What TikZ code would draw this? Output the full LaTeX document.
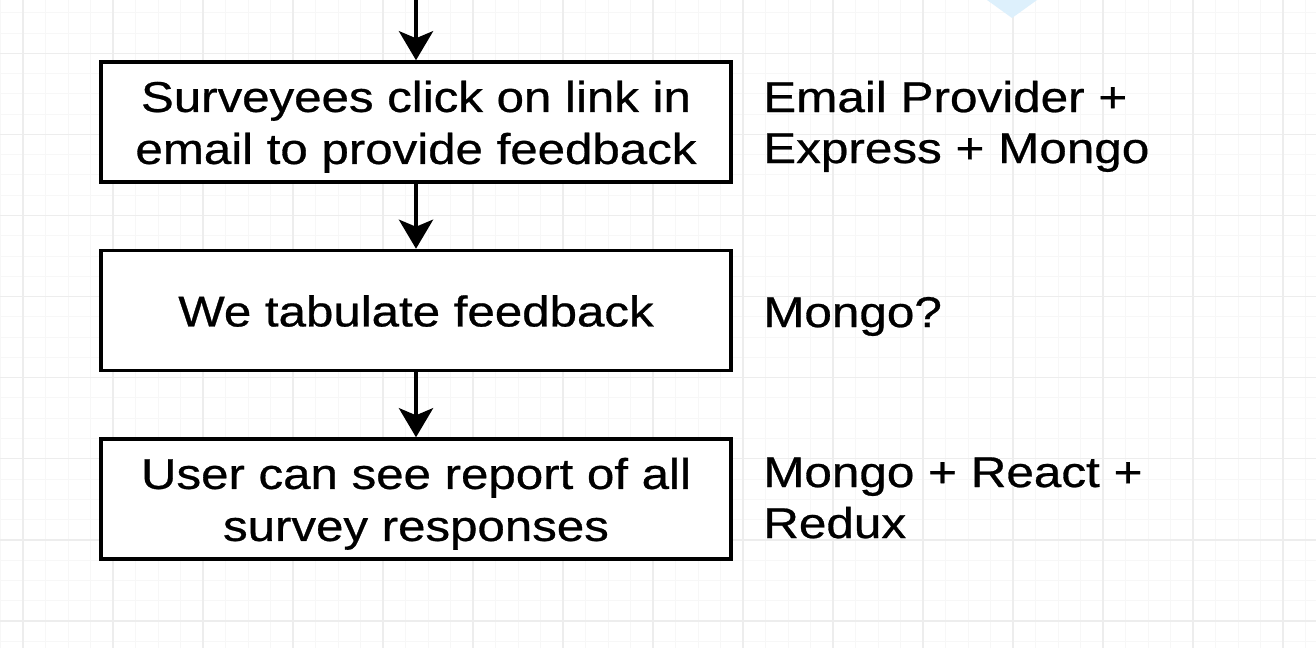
\documentclass[tikz,border=0pt]{standalone}
\usepackage{fontspec}
\setmainfont[FakeBold=0.6]{Liberation Sans}
\usetikzlibrary{arrows.meta}
\definecolor{gridmajor}{HTML}{EDEDED}
\definecolor{gridminor}{HTML}{F7F7F7}
\definecolor{paleblue}{HTML}{DDF0FC}
\newcommand\boxtext[1]{\raisebox{-5.5pt}[\height][\depth]{\scalebox{1.145}[1]{\begin{tabular}{@{}c@{}}#1\end{tabular}}}}
\newcommand\sidetext[1]{\scalebox{1.15}[1]{\begin{tabular}[t]{@{}l@{}}#1\end{tabular}}}
\tikzset{
  stepbox/.style={draw=black, line width=3.5pt, minimum width=630pt, minimum height=120pt, inner sep=0pt, fill=white, font=\fontsize{43}{52}\selectfont},
  sidelabel/.style={anchor=base west, inner sep=0pt, font=\fontsize{43}{51}\selectfont},
  flow/.style={line width=4.5pt, -{Stealth[length=29pt,width=34pt,inset=7pt]}},
  gmaj/.style={gridmajor, line width=1.3pt},
  gmin/.style={gridminor, line width=1pt}
}
\begin{document}
\begin{tikzpicture}[x=1pt,y=-1pt]
\useasboundingbox (0,0) rectangle (1316,648);
\fill[white] (0,0) rectangle (1316,648);
% grid
\foreach \i in {-1,...,58} {\draw[gmin] ({23+22.5*\i},0) -- ({23+22.5*\i},648);}
\foreach \i in {-3,...,29} {\draw[gmin] (0,{53.3+20.275*\i}) -- (1316,{53.3+20.275*\i});}
\foreach \i in {0,...,14} {\draw[gmaj] ({23+90*\i},0) -- ({23+90*\i},648);}
\foreach \i in {0,...,7} {\draw[gmaj] (0,{53.3+81.1*\i}) -- (1316,{53.3+81.1*\i});}
% pale blue shape at top
\fill[paleblue] (987,0) -- (1037,0) -- (1012,18) -- cycle;
% boxes
\coordinate (top) at (416,0);
\node[stepbox] (s1) at (416,122) {\boxtext{Surveyees click on link in\\email to provide feedback}};
\node[stepbox] (s2) at (416,310.5) {\boxtext{We tabulate feedback}};
\node[stepbox] (s3) at (416,499) {\boxtext{User can see report of all\\survey responses}};
% arrows
\draw[flow] (top) -- (s1.north);
\draw[flow] (s1.south) -- (s2.north);
\draw[flow] (s2.south) -- (s3.north);
% side labels
\node[sidelabel] (l1) at (763,112) {\sidetext{Email Provider +\\Express + Mongo}};
\node[sidelabel] (l2) at (763,327) {\sidetext{Mongo?}};
\node[sidelabel] (l3) at (763,487) {\sidetext{Mongo + React +\\Redux}};
\end{tikzpicture}
\end{document}
